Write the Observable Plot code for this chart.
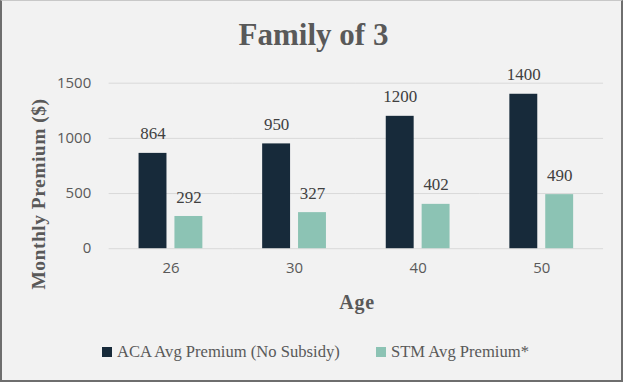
<!DOCTYPE html>
<html><head><meta charset="utf-8">
<script src="https://cdn.jsdelivr.net/npm/d3@7"></script>
<script src="https://cdn.jsdelivr.net/npm/@observablehq/plot@0.6"></script>
<style>
html,body{margin:0;padding:0;background:#fff;}
#wrap{position:relative;width:623px;height:382px;box-sizing:border-box;background:#f2f2f2;
  border-top:1px solid #c8c8c8;border-left:2px solid #6e6e6e;border-right:2px solid #6e6e6e;border-bottom:2px solid #6e6e6e;overflow:hidden;}
#chart{position:absolute;left:-2px;top:-1px;}
.slab{font-family:"Liberation Serif",serif;font-weight:bold;color:#595959;position:absolute;white-space:nowrap;}
#title{left:0;width:623px;text-align:center;top:16px;font-size:31px;}
#ylab{left:37px;top:193px;font-size:19.5px;letter-spacing:0.5px;transform:translate(-50%,-50%) rotate(-90deg);}
#xlab{left:355px;top:290px;font-size:20px;letter-spacing:0.8px;transform:translateX(-50%);}
#legend{position:absolute;top:341px;left:0;width:623px;font-family:"Liberation Serif",serif;font-size:16.6px;color:#595959;}
.li{position:absolute;top:0;white-space:nowrap;}
.sw{display:inline-block;width:10px;height:10px;margin-right:5px;}
</style></head>
<body>
<div id="wrap">
  <div id="chart"></div>
  <div id="title" class="slab">Family of 3</div>
  <div id="ylab" class="slab">Monthly Premium ($)</div>
  <div id="xlab" class="slab">Age</div>
  <div id="legend"></div>
</div>
<script>
const ages = ["26", "30", "40", "50"];
const series = ["ACA Avg Premium (No Subsidy)", "STM Avg Premium*"];
const acaValues = [864, 950, 1200, 1400];
const stmValues = [292, 327, 402, 490];
const colors = ["#172a3a", "#8cc3b4"];
const yTicks = [0, 500, 1000, 1500];

const data = [];
ages.forEach((a, i) => {
  data.push({age: a, series: series[0], value: acaValues[i]});
  data.push({age: a, series: series[1], value: stmValues[i]});
});

const plot = Plot.plot({
  width: 623,
  height: 382,
  marginTop: 83,
  marginBottom: 133,
  marginLeft: 109,
  marginRight: 18,
  style: {background: "transparent", fontFamily: "'Open Sans', sans-serif"},
  fx: {domain: ages, padding: 0, label: null, axis: null},
  x: {domain: series, paddingInner: 0.222, paddingOuter: 0.833, axis: null},
  y: {domain: [0, 1500], axis: null},
  color: {domain: series, range: colors},
  marks: [
    Plot.ruleY(yTicks, {stroke: "#d9d9d9", strokeWidth: 1}),
    Plot.barY(data, {fx: "age", x: "series", y: "value", fill: "series"}),
    Plot.text(data, {fx: "age", x: "series", y: "value", text: d => String(d.value), dy: -14, lineAnchor: "bottom",
      fontFamily: "'Liberation Serif', serif", fontSize: 17, fill: "#404040"}),
    Plot.axisY(yTicks, {tickSize: 0, tickPadding: 18, tickFormat: d => String(d), fontSize: 15, color: "#595959", label: null}),
    Plot.axisFx({tickSize: 0, tickPadding: 14, fontSize: 15, color: "#595959", label: null, anchor: "bottom"})
  ]
});
document.getElementById("chart").appendChild(plot);

const legend = document.getElementById("legend");
const pos = [102, 376];
series.forEach((s, i) => {
  const el = document.createElement("div");
  el.className = "li";
  el.style.left = (pos[i] - 2) + "px";
  el.innerHTML = `<span class="sw" style="background:${colors[i]}"></span>${s}`;
  legend.appendChild(el);
});
</script>
</body></html>
